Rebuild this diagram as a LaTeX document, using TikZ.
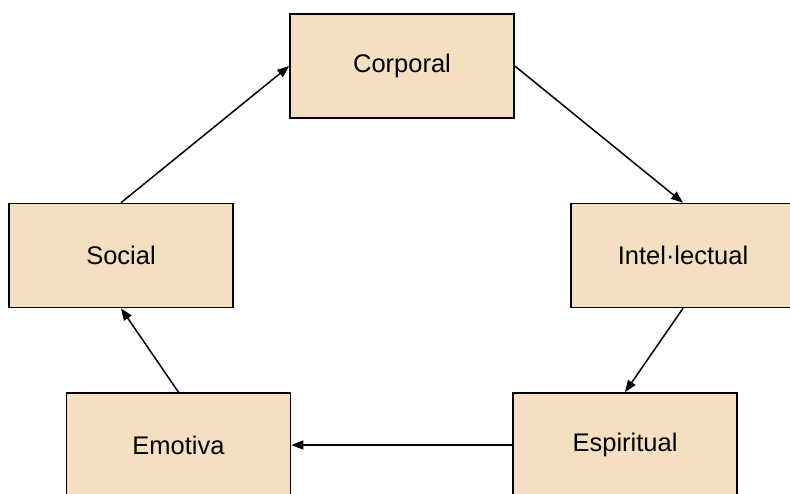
\documentclass[tikz,border=0pt]{standalone}
\usepackage{fontspec}
\setmainfont{Liberation Sans}
\usetikzlibrary{arrows.meta}
\definecolor{boxfill}{RGB}{244,224,193}
\begin{document}
\begin{tikzpicture}[x=1pt,y=-1pt,
  box/.style={draw=black,fill=boxfill,line width=1.6pt,minimum width=224pt,minimum height=104pt,inner sep=0pt,font=\fontsize{25.5}{30}\selectfont},
  conn/.style={line width=1.5pt,-{Triangle[length=12pt,width=9pt]}}]
\useasboundingbox (0,0) rectangle (790,493);
\node[box] (corp) at (402,66) {Corporal};
\node[box] (soc) at (121,255.5) {Social};
\node[box] (int) at (683,255.5) {Intel·lectual};
\node[box] (emo) at (178.5,445) {Emotiva};
\node[box] (esp) at (625,445) {Espiritual};
\draw[conn] (soc.north) -- (corp.west);
\draw[conn] (corp.east) -- (int.north);
\draw[conn] (int.south) -- (esp.north);
\draw[conn] (esp.west) -- (emo.east);
\draw[conn] (emo.north) -- (soc.south);
\end{tikzpicture}
\end{document}
